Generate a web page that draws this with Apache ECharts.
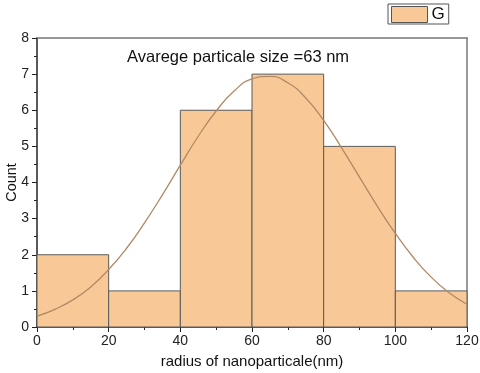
<!DOCTYPE html>
<html><head><meta charset="utf-8">
<script src="https://cdn.jsdelivr.net/npm/echarts@6/dist/echarts.min.js"></script>
<style>html,body{margin:0;padding:0;background:#fff}#c{width:480px;height:373px}</style>
</head><body><div id="c"></div>
<script>
const binStarts = [0, 20, 40, 60, 80, 100];
const binEnds = [20, 40, 60, 80, 100, 120];
const counts = [2, 1, 6, 7, 5, 1];
const curveX = [0,5,10,15,20,25,30,35,40,45,50,55,60,65,70,75,80,85,90,95,100,105,110,115,120];
const curveY = [0.30,0.49,0.75,1.11,1.59,2.18,2.88,3.66,4.48,5.28,5.98,6.53,6.87,6.94,6.76,6.34,5.72,4.96,4.15,3.34,2.59,1.93,1.38,0.95,0.63];
const xTicks = [0, 20, 40, 60, 80, 100, 120];
const yTicks = [0, 1, 2, 3, 4, 5, 6, 7, 8];
const annotation = 'Avarege particale size =63 nm';

const chart = echarts.init(document.getElementById('c'), null, {renderer: 'canvas'});
const font = 'Arial, "Liberation Sans", sans-serif';
const histData = counts.map((c, i) => [binStarts[i], binEnds[i], c]);
const fill = '#F9C897';
chart.setOption({
  animation: false,
  backgroundColor: '#fff',
  textStyle: {fontFamily: font},
  grid: {left: 37, right: 13, top: 38, bottom: 46, containLabel: false, outerBoundsMode: 'none'},
  legend: {
    left: 388, top: 4, padding: [2, 4, 1, 3],
    borderColor: '#555', borderWidth: 1,
    itemWidth: 36, itemHeight: 16, itemGap: 5,
    data: [{name: 'G', icon: 'rect'}],
    itemStyle: {borderColor: '#555', borderWidth: 1},
    textStyle: {fontSize: 17, color: '#111', fontFamily: font, padding: [0, 0, 0, -1]}
  },
  title: {
    text: annotation, left: 122, top: 44,
    textStyle: {fontSize: 16.5, fontWeight: 'normal', color: '#111', fontFamily: font}
  },
  xAxis: [{
    type: 'value', min: 0, max: 120, interval: 20,
    name: 'radius of nanoparticale(nm)', nameLocation: 'middle', nameGap: 27,
    nameMoveOverlap: false,
    nameTextStyle: {fontSize: 15, color: '#111', fontFamily: font},
    axisLine: {show: true, lineStyle: {color: '#222', width: 1.5}},
    axisTick: {show: true, length: 5, lineStyle: {color: '#222'}},
    minorTick: {show: true, splitNumber: 2, length: 3, lineStyle: {color: '#222'}},
    axisLabel: {fontSize: 14, color: '#222', margin: 7,
      formatter: v => xTicks.includes(v) ? String(v) : ''},
    splitLine: {show: false}
  }, {
    type: 'value', min: 0, max: 120, position: 'top',
    axisLine: {show: true, onZero: false, lineStyle: {color: '#777', width: 1.5}},
    axisTick: {show: false}, axisLabel: {show: false}, splitLine: {show: false}
  }],
  yAxis: [{
    type: 'value', min: 0, max: 8, interval: 1,
    name: 'Count', nameLocation: 'middle', nameGap: 18, nameRotate: 90,
    nameMoveOverlap: false,
    nameTextStyle: {fontSize: 14.5, color: '#111', fontFamily: font},
    axisLine: {show: true, lineStyle: {color: '#222', width: 1.5}},
    axisTick: {show: true, length: 5, lineStyle: {color: '#222'}},
    minorTick: {show: true, splitNumber: 2, length: 3, lineStyle: {color: '#222'}},
    axisLabel: {fontSize: 14, color: '#222', margin: 8,
      formatter: v => yTicks.includes(v) ? String(v) : ''},
    splitLine: {show: false}
  }, {
    type: 'value', min: 0, max: 8, position: 'right',
    axisLine: {show: true, onZero: false, lineStyle: {color: '#777', width: 1.5}},
    axisTick: {show: false}, axisLabel: {show: false}, splitLine: {show: false}
  }],
  series: [{
    name: 'G', type: 'custom',
    itemStyle: {color: fill, borderColor: '#555', borderWidth: 1},
    encode: {x: [0, 1], y: 2},
    renderItem: (params, api) => {
      const p0 = api.coord([api.value(0), api.value(2)]);
      const p1 = api.coord([api.value(1), 0]);
      return {
        type: 'rect',
        shape: {x: p0[0], y: p0[1], width: p1[0] - p0[0], height: p1[1] - p0[1]},
        style: {fill: fill, stroke: '#5a5a5a', lineWidth: 1}
      };
    },
    data: histData, z: 2
  }, {
    name: 'fit', type: 'line', smooth: true, showSymbol: false,
    lineStyle: {color: '#B08A64', width: 1.3},
    data: curveX.map((x, i) => [x, curveY[i]]), z: 3
  }]
});
</script></body></html>
